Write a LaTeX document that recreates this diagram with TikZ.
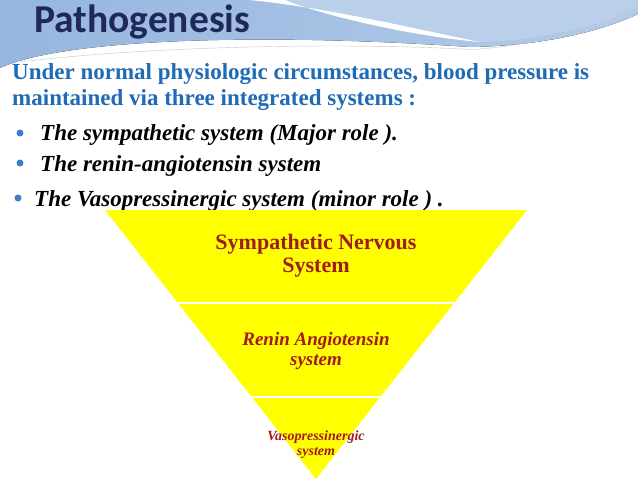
\documentclass[tikz,border=0pt]{standalone}
\usepackage{fontspec}
\setmainfont{Liberation Serif}
\newfontfamily\titulofont{Carlito}
\usepackage{tikz}
\usetikzlibrary{calc,positioning}
\definecolor{tituloazul}{HTML}{1F2858}
\definecolor{textoazul}{HTML}{1F6BB5}
\definecolor{vinetaazul}{HTML}{3A80C8}
\definecolor{cabeza}{HTML}{96B6DF}
\definecolor{cabeza2}{HTML}{BAD0EA}
\definecolor{amarillo}{HTML}{FFFF00}
\definecolor{rojo}{HTML}{A31A1A}
\tikzset{
  titulo/.style={anchor=base west,inner sep=0pt,font=\titulofont\fontsize{39.5}{41}\selectfont\bfseries,text=tituloazul},
  parrafo/.style={anchor=base west,inner sep=0pt,font=\fontsize{23}{25}\selectfont\bfseries,text=textoazul},
  vineta/.style={anchor=base west,inner sep=0pt,font=\fontsize{23}{25}\selectfont\bfseries\itshape,text=black},
  punto/.style={circle,fill=vinetaazul,inner sep=0pt,minimum size=7pt},
  nivel/.style={align=center,inner sep=0pt,text=rojo},
  divisor/.style={draw=white,line width=1.3pt},
  hilo/.style={draw=gray!45,line width=0.4pt},
}

\begin{document}
\begin{tikzpicture}[x=1pt,y=-1pt]
\useasboundingbox (0,0) rectangle (638,479);
\fill[white] (0,0) rectangle (638,479);
% cabecera
\fill[left color=cabeza,right color=cabeza2!80!cabeza] (0,0) -- (638,0) -- (638,14)
  .. controls (600,32) and (540,46) .. (470,47)
  .. controls (250,32) and (60,40) .. (0,68) -- cycle;
\fill[cabeza2] (250,0) .. controls (330,8) and (420,30) .. (480,42)
  .. controls (550,40) and (610,22) .. (638,7) -- (638,0) -- cycle;
\fill[white] (250,0) .. controls (330,8) and (420,30) .. (480,42)
  .. controls (420,37) and (330,18) .. (285,0) -- cycle;
\draw[hilo] (20,62) .. controls (150,46) and (350,42) .. (480,50);
\draw[hilo] (480,49) .. controls (560,42) and (610,22) .. (638,6);
\node[titulo] (tit) at (34,32) {Pathogenesis};
% texto
\node[parrafo] (lin1) at (12,79) {Under normal physiologic circumstances, blood pressure is};
\node[parrafo] (lin2) at (12,105) {maintained via three integrated systems :};
\node[punto] (p1) at (20,133) {};
\node[vineta] (v1) at (40,140) {The sympathetic system (Major role ).};
\node[punto] (p2) at (20,163) {};
\node[vineta] (v2) at (40,171) {The renin-angiotensin system};
\node[punto] (p3) at (18,198) {};
\node[vineta] (v3) at (34,206) {The Vasopressinergic system (minor role ) .};
% piramide invertida
\coordinate (ti) at (105,210);
\coordinate (td) at (527,210);
\coordinate (vertice) at (316,479);
\fill[amarillo] (ti) -- (td) -- (vertice) -- cycle;
\coordinate (d1i) at ($(ti)!0.3457!(vertice)$);
\coordinate (d1d) at ($(td)!0.3457!(vertice)$);
\coordinate (d2i) at ($(ti)!0.6952!(vertice)$);
\coordinate (d2d) at ($(td)!0.6952!(vertice)$);
\draw[divisor] (d1i) -- (d1d);
\draw[divisor] (d2i) -- (d2d);
\node[nivel,font=\fontsize{22}{23}\selectfont\bfseries] (simpatico) at (316,256) {Sympathetic Nervous\\System};
\node[nivel,font=\fontsize{19}{20}\selectfont\bfseries\itshape] (renina) at (316,351) {Renin Angiotensin\\system};
\node[nivel,font=\fontsize{14}{15}\selectfont\bfseries\itshape] (vaso) at (316,445) {Vasopressinergic\\system};
\end{tikzpicture}
\end{document}
